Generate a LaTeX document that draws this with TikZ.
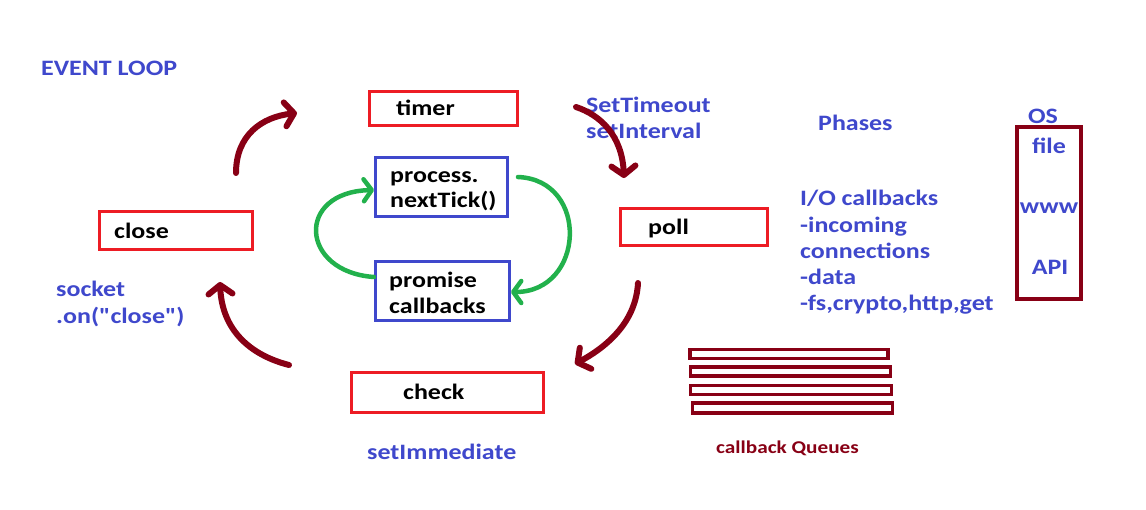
\documentclass[tikz,border=0pt]{standalone}
\usepackage{fontspec}
\setmainfont{Carlito}[FakeStretch=1.18,Ligatures=TeXOff]
\usetikzlibrary{arrows.meta}
\definecolor{pred}{HTML}{ED1C24}
\definecolor{pdark}{HTML}{880015}
\definecolor{pblue}{HTML}{3F48CC}
\definecolor{pgreen}{HTML}{22B14C}
\begin{document}
\begin{tikzpicture}[x=1pt,y=-1pt,
  txt/.style={inner sep=0pt, anchor=west, font=\bfseries\fontsize{22}{26}\selectfont, text height=20pt, text depth=4pt},
  btxt/.style={txt, text=pblue},
  rbox/.style={draw=pred, line width=3pt, inner sep=0pt},
  bbox/.style={draw=pblue, line width=3pt, inner sep=0pt},
  qbar/.style={draw=pdark, line width=3.5pt},
  arr/.style={draw=pdark, line width=6pt, line cap=round, line join=round, -{Straight Barb[length=9pt,width=24pt,round]}},
  garr/.style={draw=pgreen, line width=4.5pt, line cap=round, line join=round, -{Straight Barb[length=8pt,width=22pt,round]}}]
\useasboundingbox[fill=white] (0,0) rectangle (1146,510);

% boxes
\node[rbox, minimum width=148pt, minimum height=34pt] (timer) at (443.5,108.5) {};
\node[bbox, minimum width=132pt, minimum height=59pt] (proc) at (441.5,187) {};
\node[bbox, minimum width=134pt, minimum height=59pt] (prom) at (442.5,291) {};
\node[rbox, minimum width=153pt, minimum height=38pt] (close) at (176,230.5) {};
\node[rbox, minimum width=147pt, minimum height=37pt] (poll) at (694,227) {};
\node[rbox, minimum width=192pt, minimum height=40pt] (check) at (447.5,392.5) {};
\node[draw=pdark, line width=4pt, inner sep=0pt, minimum width=64pt, minimum height=172pt] (os) at (1049,213) {};

% box texts
\node[txt] (ttimer) at (396,108) {timer};
\node[txt] (tproc1) at (390,175) {process.};
\node[txt] (tproc2) at (390,200) {nextTick()};
\node[txt] (tprom1) at (389,280) {promise};
\node[txt] (tprom2) at (389,306) {callbacks};
\node[txt] (tclose) at (114,231) {close};
\node[txt] (tpoll) at (648,227) {poll};
\node[txt] (tcheck) at (403,392) {check};

% blue labels
\node[btxt] (evl) at (41,68) {EVENT LOOP};
\node[btxt] (sock1) at (56,289) {socket};
\node[btxt] (sock2) at (56,316) {.on("close")};
\node[btxt] (st1) at (586,105) {SetTimeout};
\node[btxt] (st2) at (586,131) {setInterval};
\node[btxt] (phases) at (818,123) {Phases};
\node[btxt, anchor=center] (ostxt) at (1043,116) {OS};
\node[btxt, anchor=center] (file) at (1049,146) {file};
\node[btxt, anchor=center] (www) at (1049,206) {www};
\node[btxt, anchor=center] (api) at (1050,267) {API};
\node[btxt] (io1) at (800,198) {I/O callbacks};
\node[btxt] (io2) at (800,225) {-incoming};
\node[btxt] (io3) at (800,251) {connections};
\node[btxt] (io4) at (800,277) {-data};
\node[btxt] (io5) at (800,303) {-fs,crypto,http,get};
\node[btxt] (simm) at (367,452) {setImmediate};
\node[txt, text=pdark, font=\bfseries\fontsize{18}{22}\selectfont, text height=16pt, text depth=3pt] (cbq) at (716,447) {callback Queues};

% callback queue bars
\node[qbar, inner sep=0pt, minimum width=198pt, minimum height=9pt] (q1) at (789,354) {};
\node[qbar, inner sep=0pt, minimum width=200pt, minimum height=9pt] (q2) at (790.5,371.5) {};
\node[qbar, inner sep=0pt, minimum width=201pt, minimum height=9pt] (q3) at (791,390) {};
\node[qbar, inner sep=0pt, minimum width=200pt, minimum height=10pt] (q4) at (792.5,408) {};

% loop arrows
\coordinate (a1s) at (236,173);
\coordinate (a1e) at (297,113);
\coordinate (a2s) at (576,107);
\coordinate (a2e) at (624,178);
\coordinate (a3s) at (638,283);
\coordinate (a3e) at (575,364);
\coordinate (a4s) at (289,365);
\coordinate (a4e) at (220,282);
\draw[arr] (a1s) .. controls (236,135) and (262,117) .. (a1e);
\draw[arr] (a2s) .. controls (600,115) and (622,135) .. (a2e);
\draw[arr] (a3s) .. controls (636,320) and (610,345) .. (a3e);
\draw[arr] (a4s) .. controls (250,355) and (222,330) .. (a4e);

% green arrows
\draw[garr] (prom.west |- 0,277) .. controls (300,272) and (295,192) .. (proc.west |- 0,190);
\draw[garr] (518,177) .. controls (590,180) and (585,292) .. (prom.east |- 0,292);
\end{tikzpicture}
\end{document}
